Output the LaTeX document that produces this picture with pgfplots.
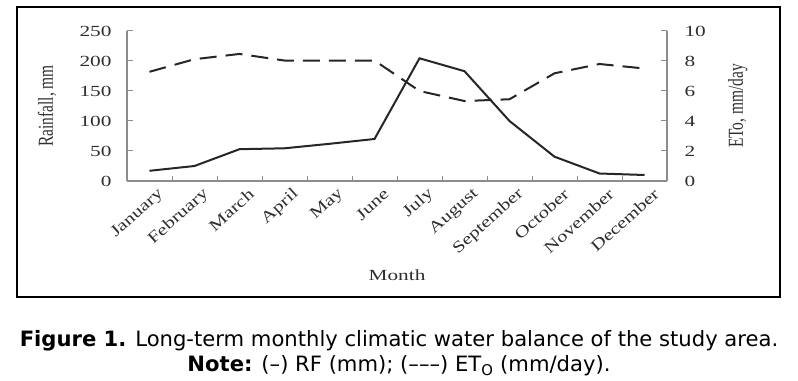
\documentclass[border=0pt]{standalone}
\usepackage{pgfplots}
\pgfplotsset{compat=1.18}
\usepackage{fontspec}
\setmainfont{Liberation Serif}
\newfontfamily\capfont{DejaVu Sans}
\newfontfamily\stretchA[FakeStretch=1.38]{Liberation Serif}
\newfontfamily\stretchB[FakeStretch=1.3]{Liberation Serif}
\definecolor{axgray}{HTML}{8C8C8C}
\definecolor{txt}{HTML}{2E2E2E}
\definecolor{ln}{HTML}{262626}
\newcommand{\tfont}{\stretchA\fontsize{15.5}{16}\selectfont}
\newcommand{\xfont}{\stretchB\fontsize{16}{17}\selectfont}
\begin{document}
\begin{tikzpicture}[x=1bp,y=1bp]
\useasboundingbox (0,0) rectangle (798,380);
\draw[line width=2.6bp] (17,373) rectangle (780,83);
\begin{axis}[
  at={(127bp,199bp)}, anchor=south west, scale only axis,
  width=540bp, height=150bp,
  xmin=0, xmax=12, ymin=0, ymax=250,
  axis x line*=bottom, axis y line*=left,
  axis line style={axgray, line width=1.2bp, -},
  xtick={0.5,1.5,...,11.5},
  xticklabels={January,February,March,April,May,June,July,August,September,October,November,December},
  minor xtick={1,2,...,11},
  ytick={0,50,...,250},
  tick align=inside, major tick length=6bp, minor tick length=5bp,
  tick style={axgray, line width=1bp},
  major x tick style={draw=none},
  /pgf/number format/assume math mode=true,
  y tick label style={font=\tfont, text=txt, xshift=-12bp},
  x tick label style={font=\xfont, text=txt, rotate=42, anchor=east, xshift=5bp, yshift=-16bp},
  xlabel={Month},
  every axis x label/.style={at={(axis description cs:0.5,0)}, anchor=base, yshift=-99bp, font=\tfont, text=txt},
  ylabel={Rainfall, mm},
  every axis y label/.style={at={(axis description cs:-0.148,0.5)}, anchor=center, font=\fontsize{15.5}{16}\selectfont, text=txt, xscale=1.38, rotate=90},
  clip=false,
]
\addplot[ln, line width=2bp] coordinates {
(0.5,17) (1.5,25) (2.5,53) (3.5,54.5) (4.5,62) (5.5,70)
(6.5,204.5) (7.5,183) (8.5,100) (9.5,40.5) (10.5,12.5) (11.5,10)};
\end{axis}
\begin{axis}[
  at={(127bp,199bp)}, anchor=south west, scale only axis,
  width=540bp, height=150bp,
  xmin=0, xmax=12, ymin=0, ymax=10,
  axis x line=none, axis y line*=right,
  axis line style={axgray, line width=1.2bp, -},
  ytick={0,2,...,10},
  tick align=inside, major tick length=6bp,
  tick style={axgray, line width=1bp},
  /pgf/number format/assume math mode=true,
  y tick label style={font=\tfont, text=txt, xshift=14bp},
  ylabel={ETo, mm/day},
  every axis y label/.style={at={(axis description cs:1.131,0.5)}, anchor=center, font=\fontsize{15.5}{16}\selectfont, text=txt, xscale=1.38, rotate=90},
  clip=false,
]
\addplot[ln, line width=2bp, dash pattern=on 17bp off 9bp] coordinates {
(0.5,7.28) (1.5,8.12) (2.5,8.47) (3.5,8.03) (4.5,8.03) (5.5,8.03)
(6.5,6.0) (7.5,5.33) (8.5,5.45) (9.5,7.18) (10.5,7.8) (11.5,7.5)};
\end{axis}
\node[font=\capfont\fontsize{21.2}{22}\selectfont, anchor=base] at (399,33.3)
  {\textbf{Figure 1.} Long-term monthly climatic water balance of the study area.};
\node[font=\capfont\fontsize{21.2}{22}\selectfont, anchor=base] at (399,8.3)
  {\textbf{Note:} (–) RF (mm); (–––) ET\textsubscript{O} (mm/day).};
\end{tikzpicture}
\end{document}
